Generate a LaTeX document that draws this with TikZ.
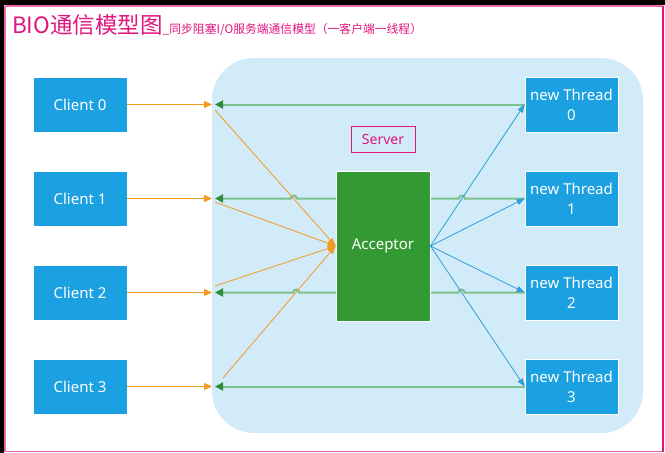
\documentclass[tikz,border=0pt]{standalone}
\usepackage{fontspec}
\setmainfont{Noto Sans}
\newfontfamily\cjk{Noto Sans CJK SC}
\usetikzlibrary{arrows.meta}
\definecolor{boxblue}{HTML}{1BA1E2}
\definecolor{srvbg}{HTML}{D2EBF8}
\definecolor{accgreen}{HTML}{339933}
\definecolor{ttlpink}{HTML}{E2157F}
\definecolor{framepink}{HTML}{EE6AAA}
\definecolor{orng}{HTML}{F39A1E}
\definecolor{lgreen}{HTML}{7DC08E}
\definecolor{dgreen}{HTML}{2E8B3A}
\definecolor{lblue}{HTML}{2E9FD8}
\pgfdeclarelayer{bg}
\pgfsetlayers{bg,main}
\begin{document}
\begin{tikzpicture}[x=1pt,y=-1pt,
  bluebox/.style={draw=white, line width=0.8pt, fill=boxblue, text=white,
    minimum width=94pt, minimum height=55pt, inner sep=0pt, align=center,
    font=\fontsize{15}{20}\selectfont},
  accbox/.style={draw=white, line width=0.8pt, fill=accgreen, text=white,
    minimum width=94pt, minimum height=150pt, inner sep=0pt,
    font=\fontsize{15}{20}\selectfont},
  srvlabel/.style={draw=ttlpink, line width=0.8pt, text=ttlpink,
    minimum width=64pt, minimum height=26pt, inner sep=0pt,
    font=\fontsize{14}{16}\selectfont},
  inarrow/.style={draw=orng, line width=1.2pt, -{Triangle[length=8pt,width=7pt]}},
  toacc/.style={draw=orng, line width=0.8pt, -{Triangle[length=8pt,width=6pt]}},
  toth/.style={draw=lblue, line width=0.8pt, -{Triangle[length=8pt,width=6pt]}},
  back/.style={draw=lgreen, line width=2pt, -{Triangle[length=8pt,width=8pt,color=dgreen]}},
]
\useasboundingbox (0,0) rectangle (665,453);
% frame background
\begin{pgfonlayer}{bg}
  \fill[black] (0,0) rectangle (665,5);
  \fill[black] (0,0) rectangle (4,453);
  \fill[white] (4,5) rectangle (665,453);
  \fill[srvbg, rounded corners=42pt] (212,58) rectangle (643,433);
\end{pgfonlayer}
\draw[framepink, line width=1.5pt] (5,6) -- (663,6);
\draw[framepink, line width=1.5pt] (5,6) -- (5,451.5) -- (663,451.5);
\draw[ttlpink, line width=1.5pt] (663,6) -- (663,451.5);

% title
\node[anchor=base west, inner sep=0pt, text=ttlpink] (title) at (12,33)
  {{\cjk\fontsize{22.5}{25}\selectfont BIO通信模型图}{\cjk\fontsize{11.8}{13}\selectfont\_同步阻塞I/O服务端通信模型（一客户端一线程）}};

% server label
\node[srvlabel] (srv) at (383,139) {Server};

% clients
\node[bluebox] (c0) at (80,104.5) {Client 0};
\node[bluebox] (c1) at (80,198.5) {Client 1};
\node[bluebox] (c2) at (80,292.5) {Client 2};
\node[bluebox] (c3) at (80,386.5) {Client 3};

% threads
\node[bluebox, minimum width=93pt] (t0) at (571.5,104.5) {new Thread\\0};
\node[bluebox, minimum width=93pt] (t1) at (571.5,198.5) {new Thread\\1};
\node[bluebox, minimum width=93pt] (t2) at (571.5,292.5) {new Thread\\2};
\node[bluebox, minimum width=93pt] (t3) at (571.5,386.5) {new Thread\\3};

% acceptor
\node[accbox] (acc) at (383,246) {Acceptor};

% entry points
\coordinate (e0) at (212,104.5);
\coordinate (e1) at (212,198.5);
\coordinate (e2) at (212,292.5);
\coordinate (e3) at (212,386.5);
\coordinate (g0) at (215,104.5);
\coordinate (g1) at (215,198.5);
\coordinate (g2) at (215,292.5);
\coordinate (g3) at (215,386.5);
\coordinate (o0) at (215,110);
\coordinate (o1) at (215,202);
\coordinate (o2) at (215,286);
\coordinate (o3) at (223,378);

\begin{pgfonlayer}{bg}
  \draw[back] (t0.west) -- (g0);
  \draw[back] (t1.west) -- (464.9,198.5) arc[start angle=0,end angle=-180,radius=3]
     -- (296.8,198.5) arc[start angle=0,end angle=-180,radius=3] -- (g1);
  \draw[back] (t2.west) -- (464.4,292.5) arc[start angle=0,end angle=-180,radius=3]
     -- (299.2,292.5) arc[start angle=0,end angle=-180,radius=3] -- (g2);
  \draw[back] (t3.west) -- (g3);
\end{pgfonlayer}

% client requests
\draw[inarrow] (c0.east) -- (e0);
\draw[inarrow] (c1.east) -- (e1);
\draw[inarrow] (c2.east) -- (e2);
\draw[inarrow] (c3.east) -- (e3);

% to acceptor
\draw[toacc] (o0) -- (acc.west);
\draw[toacc] (o1) -- (acc.west);
\draw[toacc] (o2) -- (acc.west);
\draw[toacc] (o3) -- (acc.west);

% to threads
\draw[toth] (acc.east) -- (t0.west);
\draw[toth] (acc.east) -- (t1.west);
\draw[toth] (acc.east) -- (t2.west);
\draw[toth] (acc.east) -- (t3.west);
\end{tikzpicture}
\end{document}
